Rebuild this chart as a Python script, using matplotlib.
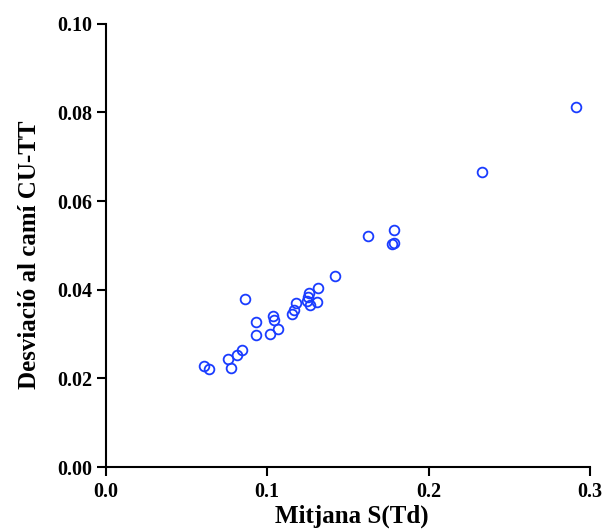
import matplotlib
matplotlib.use('Agg')
import matplotlib.pyplot as plt

# Mean S(Td) vs. deviation along the CU-TT path
mitjana_std = [0.2913, 0.2329, 0.1622, 0.1785, 0.1771, 0.1787, 0.1419, 0.1312,
               0.1256, 0.1250, 0.1248, 0.1266, 0.1306, 0.1180, 0.1165, 0.1151,
               0.0862, 0.1037, 0.1043, 0.0930, 0.1068, 0.1017, 0.0930, 0.0845,
               0.0810, 0.0754, 0.0777, 0.0606, 0.0640]
desviacio = [0.0813, 0.0665, 0.0521, 0.0535, 0.0503, 0.0505, 0.0430, 0.0404,
             0.0393, 0.0384, 0.0375, 0.0366, 0.0372, 0.0370, 0.0354, 0.0345,
             0.0379, 0.0341, 0.0332, 0.0328, 0.0312, 0.0300, 0.0298, 0.0264,
             0.0252, 0.0243, 0.0223, 0.0229, 0.0221]

x_ticks = [0.0, 0.1, 0.2, 0.3]
y_ticks = [0.00, 0.02, 0.04, 0.06, 0.08, 0.10]

plt.rcParams['font.family'] = ['Liberation Serif', 'DejaVu Serif']
plt.rcParams['font.weight'] = 'bold'

fig = plt.figure(figsize=(6.05, 5.29), dpi=100)
ax = fig.add_axes([0.175, 0.117, 0.8, 0.838])

ax.plot(mitjana_std, desviacio, linestyle='none', marker='o', markersize=7,
        markerfacecolor='none', markeredgecolor='#1a3cff', markeredgewidth=1.3,
        clip_on=False)

ax.set_xlim(0, 0.3)
ax.set_ylim(0, 0.1)
ax.set_xticks(x_ticks)
ax.set_xticklabels([f'{t:.1f}' for t in x_ticks])
ax.set_yticks(y_ticks)
ax.set_yticklabels([f'{t:.2f}' for t in y_ticks])

for side in ['top', 'right']:
    ax.spines[side].set_visible(False)
for side in ['left', 'bottom']:
    ax.spines[side].set_linewidth(1.5)
ax.tick_params(direction='out', length=6.5, width=1.5, labelsize=14.5)
ax.tick_params(axis='x', pad=4)
ax.tick_params(axis='y', pad=3)
for lab in ax.get_xticklabels() + ax.get_yticklabels():
    lab.set_fontweight('bold')

ax.set_xlabel('Mitjana S(Td)', fontsize=18, fontweight='bold')
ax.set_ylabel('Desviació al camí CU-TT', fontsize=18, fontweight='bold')
ax.xaxis.set_label_coords(0.509, -0.085)
ax.yaxis.set_label_coords(-0.135, 0.48)

fig.savefig('out.png', dpi=100)
